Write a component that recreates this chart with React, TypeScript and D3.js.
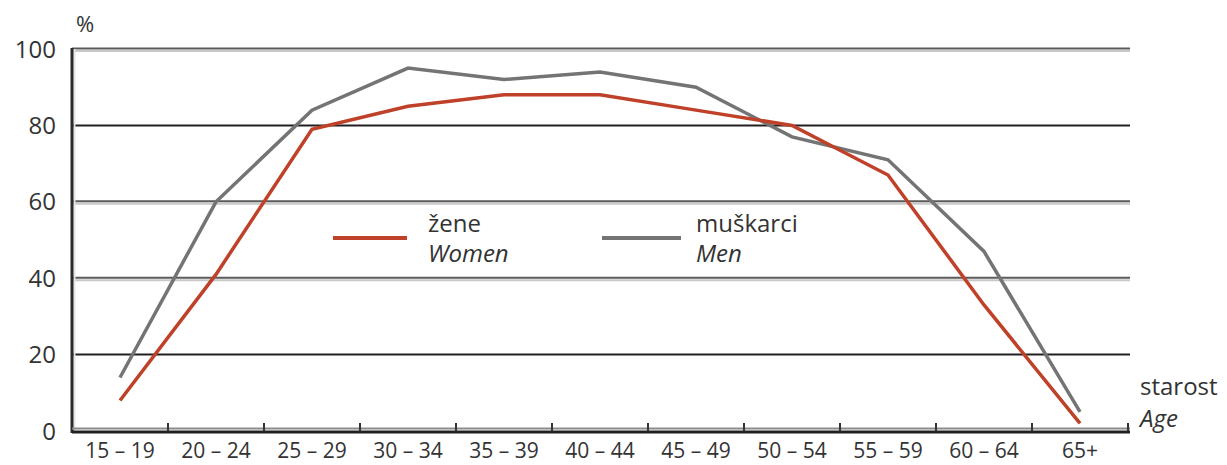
import React from "react";
import * as d3 from "d3";

const categories = ["15 – 19", "20 – 24", "25 – 29", "30 – 34", "35 – 39", "40 – 44", "45 – 49", "50 – 54", "55 – 59", "60 – 64", "65+"];
const women = [8, 41, 79, 85, 88, 88, 84, 80, 67, 33, 2];
const men = [14, 60, 84, 95, 92, 94, 90, 77, 71, 47, 5];
const yTicks = [0, 20, 40, 60, 80, 100];

const W = 1227, H = 465;
const L = 72, R = 1128, T = 49, B = 431;
const FONT = "'Open Sans', 'Noto Sans', sans-serif";
const TXT = "#333";

export default function App() {
  const x = d3.scaleBand<string>().domain(categories).range([L, R]).padding(0);
  const y = d3.scaleLinear().domain([0, 100]).range([B, T]);
  const cx = (c: string) => (x(c) as number) + x.bandwidth() / 2;
  const line = d3.line<number>().x((_, i) => cx(categories[i])).y((d) => y(d));
  const darkLines = new Set([80, 20]);
  return (
    <svg width={W} height={H} style={{ position: "absolute", left: 0, top: 0 }} fontFamily={FONT}>
      <rect width={W} height={H} fill="#fff" />
      {yTicks.filter((t) => t > 0).map((t) =>
        darkLines.has(t) ? (
          <line key={t} x1={L} x2={R + 2} y1={y(t)} y2={y(t)} stroke="#231f20" strokeWidth={2} />
        ) : (
          <g key={t}>
            <line x1={L} x2={R + 2} y1={y(t) + 2} y2={y(t) + 2} stroke="#c8c8c8" strokeWidth={2} />
            <line x1={L} x2={R + 2} y1={y(t) - 0.5} y2={y(t) - 0.5} stroke="#5a5a5a" strokeWidth={2} />
          </g>
        )
      )}
      {/* left axis */}
      <line x1={L + 2.5} x2={L + 2.5} y1={T} y2={B} stroke="#e6e6e6" strokeWidth={2} />
      <line x1={L} x2={L} y1={T - 1} y2={B + 2} stroke="#2b2b2b" strokeWidth={3} />
      {/* bottom axis */}
      <line x1={L} x2={R + 2} y1={B - 2.5} y2={B - 2.5} stroke="#8a8a8a" strokeWidth={2} />
      <line x1={L} x2={R + 2} y1={B + 1} y2={B + 1} stroke="#231f20" strokeWidth={3} />
      {categories.map((c) => {
        const xt = (x(c) as number) + x.bandwidth();
        return <line key={c} x1={xt} x2={xt} y1={B - 8} y2={B} stroke="#333" strokeWidth={2} />;
      })}
      {yTicks.map((t) => (
        <text key={t} x={56} y={y(t)} dy="0.36em" textAnchor="end" fontSize={24} fill={TXT}>{t}</text>
      ))}
      <text x={76} y={32} fontSize={22} fill={TXT}>%</text>
      {categories.map((c) => (
        <text key={c} x={cx(c)} y={458} textAnchor="middle" fontSize={21} fill={TXT}>{c}</text>
      ))}
      <text x={1140} y={395} fontSize={24} fill={TXT}>starost</text>
      <text x={1140} y={427} fontSize={24} fill={TXT} fontStyle="italic">Age</text>
      <path d={line(men) as string} fill="none" stroke="#747474" strokeWidth={3.5} strokeLinejoin="miter" />
      <path d={line(women) as string} fill="none" stroke="#bf4129" strokeWidth={3.5} strokeLinejoin="miter" />
      {/* legend */}
      <line x1={333} x2={407} y1={238} y2={238} stroke="#bf4129" strokeWidth={4} />
      <text x={428} y={232} fontSize={24} fill={TXT}>žene</text>
      <text x={428} y={262} fontSize={24} fill={TXT} fontStyle="italic">Women</text>
      <line x1={602} x2={681} y1={238} y2={238} stroke="#747474" strokeWidth={4} />
      <text x={696} y={232} fontSize={24} fill={TXT}>muškarci</text>
      <text x={696} y={262} fontSize={24} fill={TXT} fontStyle="italic">Men</text>
    </svg>
  );
}
